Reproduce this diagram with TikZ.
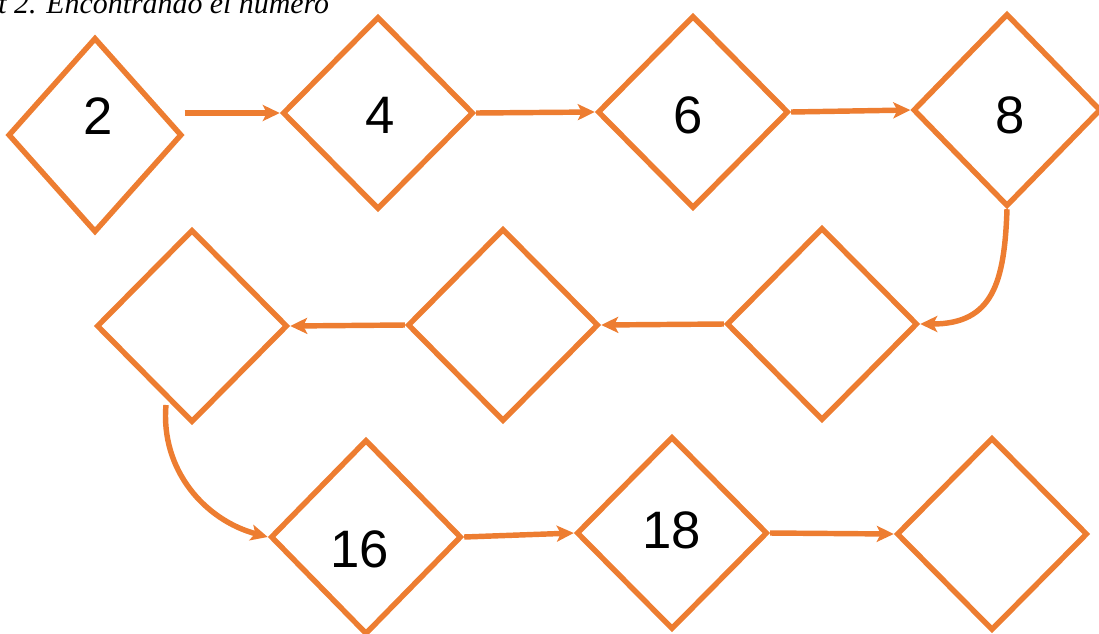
\documentclass[tikz,border=0pt]{standalone}
\usepackage{fontspec}
\setmainfont{Liberation Serif}
\newfontfamily\numfont{Liberation Sans}
\usepackage{tikz}
\usetikzlibrary{shapes.geometric,arrows.meta,positioning}

\definecolor{naranja}{RGB}{237,125,49}

\begin{document}
\begin{tikzpicture}[
    x=0.02cm, y=-0.02cm,
    rombo/.style={draw=naranja, diamond, aspect=1, inner sep=0pt, line width=3.1pt,
                  minimum width=3.82cm, minimum height=3.86cm},
    num/.style={inner sep=0pt, font=\numfont\fontsize{30}{34}\selectfont},
    flecha/.style={-{Stealth[length=3.4mm,width=3.2mm,inset=0.8mm]}, line width=3.1pt, draw=naranja},
    titulo/.style={inner sep=0pt, font=\fontsize{17}{20}\selectfont\itshape}
]
\useasboundingbox (0,0) rectangle (1099,633);

\node[titulo, anchor=base west] (tit) at (-2,13) {t 2. Encontrando el número};

% fila de arriba
\node[rombo, minimum width=3.48cm, minimum height=3.9cm] (d1) at (95,135) {};
\node[rombo] (d2) at (378,113) {};
\node[rombo] (d3) at (693,112) {};
\node[rombo, minimum width=3.76cm] (d4) at (1007,110) {};
% fila del medio
\node[rombo] (d5) at (822,324) {};
\node[rombo] (d6) at (503,325) {};
\node[rombo] (d7) at (192,326) {};
% fila de abajo
\node[rombo, minimum height=3.9cm] (d8) at (366,537) {};
\node[rombo] (d9) at (672,533) {};
\node[rombo] (d10) at (992,534) {};

\node[num] (n1) at (98,116) {2};
\node[num] (n2) at (380,115) {4};
\node[num] (n3) at (688,115) {6};
\node[num] (n4) at (1010,115) {8};
\node[num] (n8) at (360,549) {16};
\node[num] (n9) at (672,530) {18};

\coordinate (c7) at (166,405);

\draw[flecha] (d1.east |- d2.west) -- (d2.west);
\draw[flecha] (d2.east) -- (d3.west);
\draw[flecha] (d3.east) -- (d4.west);
\draw[flecha] (d4.south) to[out=-92, in=0, looseness=1.3] (d5.east);
\draw[flecha] (d5.west) -- (d6.east);
\draw[flecha] (d6.west) -- (d7.east);
\draw[flecha] (c7) to[out=-95, in=165] (d8.west);
\draw[flecha] (d8.east) -- (d9.west);
\draw[flecha] (d9.east) -- (d10.west);
\end{tikzpicture}
\end{document}
